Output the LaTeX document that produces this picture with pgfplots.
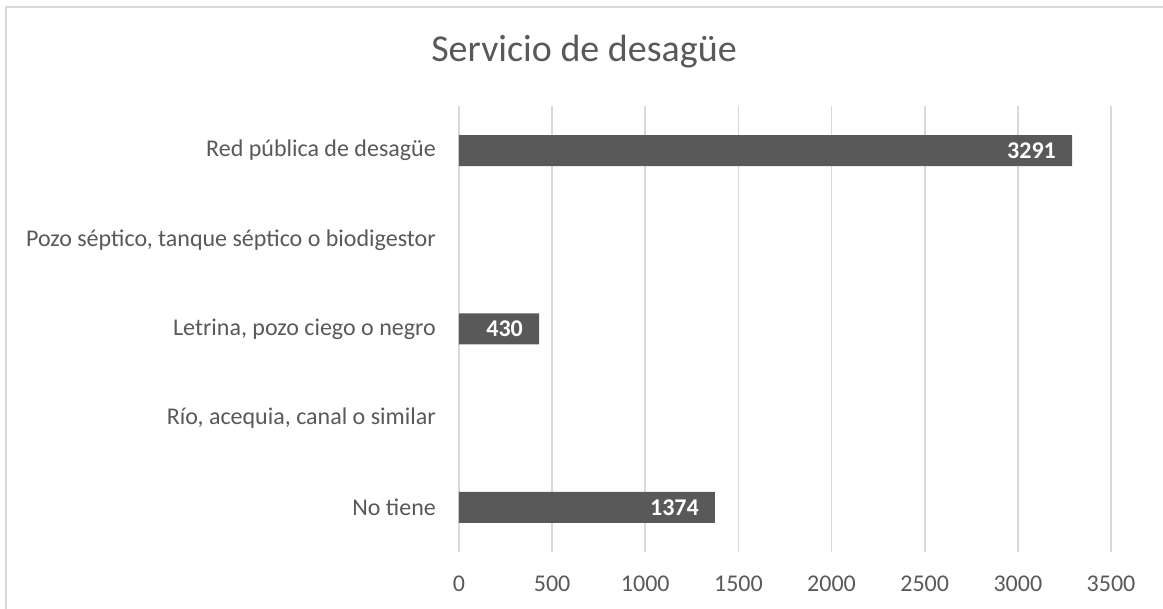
\documentclass[border=0pt]{standalone}
\usepackage{pgfplots}
\pgfplotsset{compat=1.18}
\usepackage{fontspec}
\setmainfont{Carlito}
\definecolor{barc}{HTML}{595959}
\definecolor{gridc}{HTML}{D9D9D9}
\definecolor{txt}{HTML}{595959}
\begin{document}
\begin{tikzpicture}[x=1pt,y=1pt]
\useasboundingbox (0,0) rectangle (1163,609);
\fill[white] (0,0) rectangle (1163,609);
\draw[gridc, line width=1.5pt] (6,0) -- (6,602) -- (1163,602);
\node[font=\fontsize{38}{45}\selectfont, text=txt, anchor=base, inner sep=0pt] at (584,547) {Servicio de desagüe};
\begin{axis}[at={(459pt,57pt)}, anchor=south west, scale only axis, width=652pt, height=446pt,
  xmin=0, xmax=3500, ymin=-0.5, ymax=4.5, y dir=reverse,
  xbar, bar width=31pt,
  xtick={0,500,...,3500}, ytick={0,1,2,3,4},
  yticklabels={Red pública de desagüe, {Pozo séptico, tanque séptico o biodigestor}, {Letrina, pozo ciego o negro}, {Río, acequia, canal o similar}, No tiene},
  xmajorgrids, major grid style={gridc, line width=1.6pt},
  axis line style={draw=none}, major tick length=0pt,
  ticklabel style={font=\fontsize{24}{28}\selectfont, text=txt},
  /pgf/number format/assume math mode=true,
  /pgf/number format/set thousands separator={},
  xticklabel style={inner sep=0pt, yshift=-24pt},
  yticklabel style={inner sep=0pt, xshift=-23pt},
  point meta=x,
  nodes near coords,
  nodes near coords style={anchor=east, inner sep=0pt, xshift=-16pt, text=white, font=\bfseries\fontsize{24}{28}\selectfont},
]
\addplot[fill=barc, draw=none] coordinates {(3291,0) (430,2) (1374,4)};
\end{axis}
\end{tikzpicture}
\end{document}
